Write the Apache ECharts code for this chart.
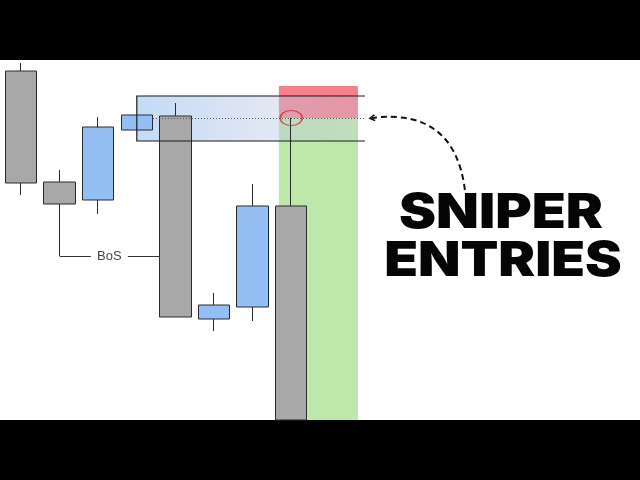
<!DOCTYPE html>
<html>
<head>
<meta charset="utf-8">
<script src="https://cdn.jsdelivr.net/npm/echarts@6/dist/echarts.min.js"></script>
<style>
html, body { margin: 0; padding: 0; background: #000; }
#main { width: 640px; height: 480px; }
</style>
</head>
<body>
<div id="main"></div>
<script>
// candle positions (x index) and prices: open, close, low, high
const candle_x = [0, 1, 2, 3, 4, 5, 6, 7];
const opens  = [349, 238, 220, 290, 304, 101, 113, 214];
const closes = [237, 216, 293, 305, 103, 115, 214, 0];
const lows   = [225, 164, 206, 290, 103,  89,  99, 0];
const highs  = [357, 250, 303, 305, 317, 127, 236, 302];

// supply / demand zone
const zone_x = [6.68, 8.73];
const zone_split = 302;      // entry price (dotted line)
const zone_top = 334;
// order block box
const box_x = [3.0, 8.73];
const box_line_end = 8.91;
const box_price = [279, 324];
const entry_line_start = 3.42;
// BoS marker
const bos_price = 164;
const bos_segments = [[1, 1.81], [2.77, 3.6]];
const bos_label_x = 2.29;
// arrow from the title to the entry
const arrow_from = [11.5, 230];
const arrow_to = [9.09, 302];
const title_lines = ['SNIPER', 'ENTRIES'];

let chart = echarts.init(document.getElementById('main'));

let candle_data = [];
for (let i = 0; i < candle_x.length; i++) {
    candle_data.push([candle_x[i], opens[i], closes[i], lows[i], highs[i]]);
}

let option = {
    backgroundColor: '#000',
    animation: false,
    grid: {
        left: 0, right: 0, top: 60, bottom: 60,
        show: true, backgroundColor: '#fff', borderWidth: 0
    },
    xAxis: { type: 'value', min: -0.544, max: 16.036, show: false },
    yAxis: { type: 'value', min: 0, max: 360, show: false },
    graphic: [
        {
            type: 'text', x: 501, y: 214, z: 100, scaleX: 1.16,
            style: {
                text: title_lines[0], fill: '#050505',
                font: '900 48px Inter', textAlign: 'center', textVerticalAlign: 'middle',
                shadowColor: '#bcd3f2', shadowOffsetX: 2, shadowOffsetY: 3, shadowBlur: 0
            }
        },
        {
            type: 'text', x: 503, y: 262, z: 100, scaleX: 1.15,
            style: {
                text: title_lines[1], fill: '#050505',
                font: '900 48px Inter', textAlign: 'center', textVerticalAlign: 'middle',
                shadowColor: '#bcd3f2', shadowOffsetX: 2, shadowOffsetY: 3, shadowBlur: 0
            }
        }
    ],
    series: [
        {
            // red / green zone
            type: 'line', data: [], z: 1, silent: true,
            markArea: {
                silent: true,
                data: [
                    [{ coord: [zone_x[0], zone_split], itemStyle: { color: '#f5808a' } },
                     { coord: [zone_x[1], zone_top] }],
                    [{ coord: [zone_x[0], 0], itemStyle: { color: '#bde8aa' } },
                     { coord: [zone_x[1], zone_split] }]
                ]
            }
        },
        {
            // order block box
            type: 'line', data: [], z: 2, silent: true,
            markArea: {
                silent: true,
                itemStyle: {
                    color: {
                        type: 'linear', x: 0, y: 0, x2: 1, y2: 0,
                        colorStops: [
                            { offset: 0, color: 'rgba(160,196,240,0.62)' },
                            { offset: 1, color: 'rgba(200,200,222,0.30)' }
                        ]
                    }
                },
                data: [[{ coord: [box_x[0], box_price[0]] }, { coord: [box_x[1], box_price[1]] }]]
            }
        },
        {
            type: 'candlestick',
            z: 3,
            barWidth: 32,
            encode: { x: 0, y: [1, 2, 3, 4] },
            data: candle_data,
            itemStyle: {
                color: '#93bff5', color0: '#a8a8a8',
                borderColor: '#2a2a2a', borderColor0: '#2a2a2a', borderWidth: 1
            }
        },
        {
            // box frame
            type: 'lines', coordinateSystem: 'cartesian2d', polyline: true, z: 4, silent: true,
            lineStyle: { color: '#1a1a1a', width: 1.2, opacity: 1 },
            data: [{ coords: [[box_line_end, box_price[1]], [box_x[0], box_price[1]],
                              [box_x[0], box_price[0]], [box_line_end, box_price[0]]] }]
        },
        {
            // entry dotted line
            type: 'lines', coordinateSystem: 'cartesian2d', z: 4, silent: true,
            lineStyle: { color: '#555', width: 1, type: [1, 2], opacity: 1 },
            data: [{ coords: [[entry_line_start, zone_split], [box_line_end, zone_split]] }]
        },
        {
            // BoS line
            type: 'lines', coordinateSystem: 'cartesian2d', z: 4, silent: true,
            lineStyle: { color: '#333', width: 1, opacity: 1 },
            data: bos_segments.map(s => ({ coords: [[s[0], bos_price], [s[1], bos_price]] }))
        },
        {
            type: 'scatter', z: 5, silent: true,
            symbolSize: 0,
            label: {
                show: true, position: 'inside', formatter: 'BoS',
                fontFamily: 'Liberation Sans', fontSize: 13, color: '#111'
            },
            data: [[bos_label_x, bos_price]]
        },
        {
            // entry circle
            type: 'scatter', z: 5, silent: true,
            symbol: 'circle', symbolSize: [22, 15],
            itemStyle: { color: 'rgba(0,0,0,0)', borderColor: '#d8262e', borderWidth: 1.3 },
            data: [[candle_x[7], zone_split]]
        },
        {
            // dashed arrow
            type: 'lines', coordinateSystem: 'cartesian2d', z: 5, silent: true,
            symbol: ['none', 'path://M0,10 L10,0 L20,10 L17,12 L10,5 L3,12 Z'],
            symbolSize: [11, 7],
            lineStyle: { color: '#111', width: 2, type: [6, 4], curveness: -0.5, opacity: 1 },
            data: [{ coords: [arrow_from, arrow_to] }]
        }
    ]
};
chart.setOption(option);
</script>
</body>
</html>
